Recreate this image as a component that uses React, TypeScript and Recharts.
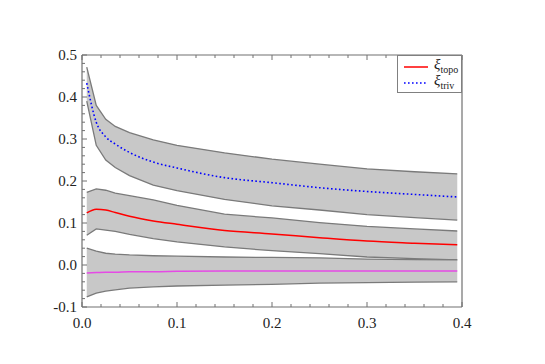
import { Area, ComposedChart, Legend, Line, XAxis, YAxis } from "recharts";

// sample positions along x
const xs = [0.005, 0.015, 0.025, 0.035, 0.05, 0.075, 0.1, 0.15, 0.2, 0.25, 0.3, 0.35, 0.395];

// trivial estimator: mean and band
const trivMean = [0.433, 0.34, 0.305, 0.288, 0.268, 0.245, 0.231, 0.208, 0.196, 0.184, 0.175, 0.168, 0.162];
const trivLow = [0.39, 0.285, 0.25, 0.232, 0.213, 0.19, 0.177, 0.156, 0.141, 0.131, 0.12, 0.113, 0.107];
const trivHigh = [0.471, 0.38, 0.347, 0.33, 0.315, 0.298, 0.285, 0.267, 0.252, 0.24, 0.229, 0.222, 0.217];

// topological estimator: mean and band
const topoMean = [0.124, 0.133, 0.131, 0.125, 0.116, 0.105, 0.097, 0.082, 0.074, 0.065, 0.057, 0.052, 0.048];
const topoLow = [0.071, 0.086, 0.083, 0.08, 0.073, 0.063, 0.055, 0.043, 0.034, 0.027, 0.019, 0.015, 0.012];
const topoHigh = [0.173, 0.181, 0.178, 0.171, 0.165, 0.155, 0.142, 0.121, 0.112, 0.101, 0.092, 0.086, 0.081];

// reference curve around zero
const zeroMean = [-0.019, -0.018, -0.017, -0.017, -0.016, -0.016, -0.015, -0.014, -0.014, -0.014, -0.014, -0.014, -0.014];
const zeroLow = [-0.076, -0.067, -0.062, -0.059, -0.055, -0.052, -0.05, -0.048, -0.046, -0.043, -0.042, -0.041, -0.04];
const zeroHigh = [0.04, 0.033, 0.028, 0.026, 0.024, 0.022, 0.021, 0.019, 0.018, 0.017, 0.014, 0.013, 0.012];

const xTicks = [0, 0.02, 0.04, 0.06, 0.08, 0.1, 0.12, 0.14, 0.16, 0.18, 0.2, 0.22, 0.24, 0.26, 0.28, 0.3, 0.32, 0.34, 0.36, 0.38, 0.4];
const yTicks = [-0.1, -0.08, -0.06, -0.04, -0.02, 0, 0.02, 0.04, 0.06, 0.08, 0.1, 0.12, 0.14, 0.16, 0.18, 0.2, 0.22, 0.24, 0.26, 0.28, 0.3, 0.32, 0.34, 0.36, 0.38, 0.4, 0.42, 0.44, 0.46, 0.48, 0.5];

const legendItems = [
  { sub: "topo", color: "#ff0000", dash: undefined },
  { sub: "triv", color: "#0000ff", dash: "1.6 2.4" },
];

const data = xs.map((x, i) => ({
  x,
  trivBand: [trivLow[i], trivHigh[i]],
  topoBand: [topoLow[i], topoHigh[i]],
  zeroBand: [zeroLow[i], zeroHigh[i]],
  triv: trivMean[i],
  topo: topoMean[i],
  zero: zeroMean[i],
}));

const FONT = "Liberation Serif, DejaVu Serif, serif";
const AXIS = "#707070";

const isMajor = (v: number) => Math.abs(v * 10 - Math.round(v * 10)) < 1e-6;

function makeTick(side: "bottom" | "top" | "left" | "right") {
  return (props: any) => {
    const { x, y, payload } = props;
    const v = payload.value as number;
    const len = isMajor(v) ? 5 : 3;
    let line;
    if (side === "bottom") line = <line x1={x} x2={x} y1={y} y2={y - len} stroke={AXIS} />;
    else if (side === "top") line = <line x1={x} x2={x} y1={y} y2={y + len} stroke={AXIS} />;
    else if (side === "left") line = <line x1={x} x2={x + len} y1={y} y2={y} stroke={AXIS} />;
    else line = <line x1={x} x2={x - len} y1={y} y2={y} stroke={AXIS} />;
    const txt = { fontFamily: FONT, fontSize: 15, fill: "#222" };
    let label = null;
    if (isMajor(v) && side === "bottom")
      label = (
        <text x={x} y={y + 21} textAnchor="middle" style={txt}>
          {v.toFixed(1)}
        </text>
      );
    if (isMajor(v) && side === "left")
      label = (
        <text x={x - 5} y={y + 5} textAnchor="end" style={txt}>
          {v.toFixed(1)}
        </text>
      );
    return (
      <g>
        {line}
        {label}
      </g>
    );
  };
}

function LegendBox() {
  return (
    <div
      style={{
        border: "1px solid #808080",
        background: "#fff",
        width: 63,
        height: 36,
        position: "relative",
        fontFamily: FONT,
      }}
    >
      {legendItems.map((it, i) => (
        <div key={it.sub} style={{ position: "absolute", left: 6, top: 3 + i * 16, height: 16, display: "flex", alignItems: "center" }}>
          <svg width={24} height={8}>
            <line x1={0} x2={24} y1={4} y2={4} stroke={it.color} strokeWidth={1.5} strokeDasharray={it.dash} />
          </svg>
          <span style={{ marginLeft: 6, fontSize: 15, lineHeight: "14px", color: "#222", fontFamily: FONT }}>
            <i>ξ</i>
            <sub style={{ fontSize: 10 }}>{it.sub}</sub>
          </span>
        </div>
      ))}
    </div>
  );
}

const axisCommon = {
  type: "number" as const,
  interval: 0 as const,
  tickSize: 0,
  tickMargin: 0,
  tickLine: false,
  axisLine: { stroke: AXIS, strokeWidth: 1.2 },
};

export default function App() {
  return (
    <ComposedChart
      width={545}
      height={364}
      data={data}
      style={{ fontFamily: FONT }}
      margin={{ top: 46, right: 90, bottom: 64, left: 73 }}
    >
      <XAxis {...axisCommon} xAxisId="b" dataKey="x" domain={[0, 0.4]} ticks={xTicks} height={1} tick={makeTick("bottom")} />
      <XAxis {...axisCommon} xAxisId="t" orientation="top" dataKey="x" domain={[0, 0.4]} ticks={xTicks} height={1} tick={makeTick("top")} />
      <YAxis {...axisCommon} yAxisId="l" domain={[-0.1, 0.5]} ticks={yTicks} width={1} tick={makeTick("left")} />
      <YAxis {...axisCommon} yAxisId="r" orientation="right" domain={[-0.1, 0.5]} ticks={yTicks} width={1} tick={makeTick("right")} />
      <Area xAxisId="b" yAxisId="l" dataKey="trivBand" type="linear" fill="#c8c8c8" fillOpacity={1} stroke="#7a7a7a" strokeWidth={1.3} isAnimationActive={false} />
      <Area xAxisId="b" yAxisId="l" dataKey="topoBand" type="linear" fill="#c8c8c8" fillOpacity={1} stroke="#7a7a7a" strokeWidth={1.3} isAnimationActive={false} />
      <Area xAxisId="b" yAxisId="l" dataKey="zeroBand" type="linear" fill="#c8c8c8" fillOpacity={1} stroke="#7a7a7a" strokeWidth={1.3} isAnimationActive={false} />
      <Line xAxisId="b" yAxisId="l" dataKey="zero" type="monotone" stroke="#e54ae5" strokeWidth={1.5} dot={false} isAnimationActive={false} />
      <Line xAxisId="b" yAxisId="l" dataKey="topo" type="monotone" stroke="#ff0000" strokeWidth={1.5} dot={false} isAnimationActive={false} />
      <Line xAxisId="b" yAxisId="l" dataKey="triv" type="monotone" stroke="#0000ff" strokeWidth={1.6} strokeDasharray="1.6 2.4" dot={false} isAnimationActive={false} />
      <Legend
        layout="vertical"
        align="center"
        verticalAlign="middle"
        wrapperStyle={{ left: 389, top: 47, width: 65, height: 38 }}
        content={() => <LegendBox />}
      />
    </ComposedChart>
  );
}
